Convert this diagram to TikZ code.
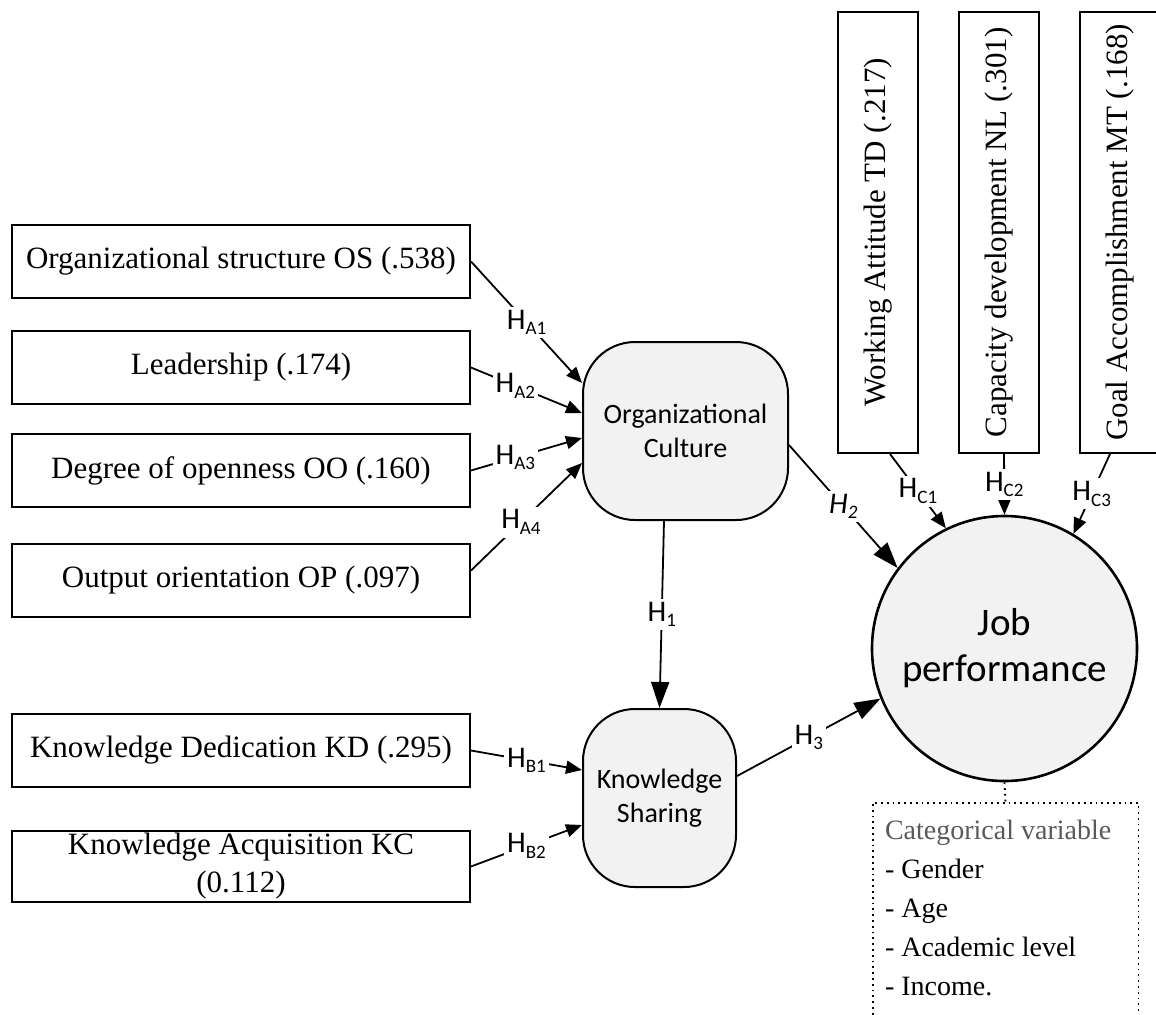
\documentclass[tikz,border=0pt]{standalone}
\usepackage{fontspec}
\setmainfont{Liberation Serif}
\newfontfamily\calib{Carlito}
\usetikzlibrary{arrows.meta, positioning}

% hypothesis label with a small lowered index
\newcommand{\hname}[1]{H\raisebox{-2.8pt}{\fontsize{9.5pt}{9.5pt}\selectfont #1}}

\begin{document}
\begin{tikzpicture}[
  x=0.5pt, y=-0.5pt,
  % Node styles
  inbox/.style={
    rectangle, draw, line width=1pt,
    minimum width=229pt, minimum height=36.5pt, inner sep=0pt,
    font=\fontsize{15.5pt}{19pt}\selectfont, align=center
  },
  vbox/.style={
    rectangle, draw, line width=1pt,
    minimum width=40pt, minimum height=220.5pt, inner sep=0pt,
    font=\fontsize{15.5pt}{19pt}\selectfont
  },
  latent/.style={
    rectangle, rounded corners=26pt,
    draw, line width=1pt, fill=gray!10,
    minimum height=89pt, inner sep=0pt, align=center,
    font=\calib\fontsize{14pt}{16.75pt}\selectfont
  },
  outcome/.style={
    circle, draw, line width=1.3pt, fill=gray!10,
    minimum size=132.5pt, inner sep=0pt, align=center,
    font=\calib\fontsize{19.5pt}{23pt}\selectfont
  },
  catbox/.style={
    rectangle, minimum width=132.5pt, minimum height=108.5pt, inner sep=0pt
  },
  cattext/.style={
    align=left, inner sep=0pt, font=\fontsize{14pt}{19.5pt}\selectfont
  },
  % Label and arrow styles
  hlab/.style={fill=white, inner sep=1.5pt, font=\calib\fontsize{15pt}{15pt}\selectfont},
  arr/.style={-{Triangle[length=8pt, width=6.5pt]}, line width=0.9pt},
  bigarr/.style={-{Triangle[length=13pt, width=9pt]}, line width=0.9pt},
  dotline/.style={dotted, line width=0.9pt}
]
\useasboundingbox (0,0) rectangle (1156,1014);

%% ── Indicator boxes (left column) ────────────────────────────
\node[inbox]                       (os)   at (241,261.5) {Organizational structure OS (.538)};
\node[inbox, below=15.5pt of os]   (lead) {Leadership (.174)};
\node[inbox, below=14pt of lead]   (deg)  {Degree of openness OO (.160)};
\node[inbox, below=17.5pt of deg]  (outp) {Output orientation OP (.097)};
\node[inbox, below=47.5pt of outp] (kd)   {Knowledge Dedication KD (.295)};
\node[inbox, below=21pt of kd, minimum height=35.5pt] (kc) {Knowledge Acquisition KC\\(0.112)};

%% ── Latent variables ─────────────────────────────────────────
\node[latent, minimum width=102.5pt] (oc) at (685.5,431) {Organizational\\Culture};
\node[latent, minimum width=76.5pt]  (ks) at (659.5,798) {Knowledge\\Sharing};
\node[outcome]                       (jp) at (1004.5,648.5) {Job\\performance};

%% ── Indicator boxes (top row) ────────────────────────────────
\node[vbox]                     (wa) at (878,232.5) {\rotatebox{90}{Working Attitude TD (.217)}};
\node[vbox, right=19.5pt of wa] (cd) {\rotatebox{90}{Capacity development NL (.301)}};
\node[vbox, right=19.5pt of cd] (ga) {\rotatebox{90}{Goal Accomplishment MT (.168)}};

%% ── Categorical variable box ─────────────────────────────────
\node[catbox] (cat) at (1005.5,911.5) {};
\node[cattext, anchor=north west] (catlist) at ([xshift=6pt, yshift=-8.5pt]cat.north west)
  {\textcolor{black!65}{Categorical variable}\\- Gender\\- Age\\- Academic level\\- Income.};

%% ── Arrows: indicators → Organizational Culture ──────────────
\draw[arr] (os.east)   -- node[hlab]{\hname{A1}} ([yshift=24pt]oc.west);
\draw[arr] (lead.east) -- node[hlab, pos=0.4]{\hname{A2}} ([yshift=9pt]oc.west);
\draw[arr] (deg.east)  -- node[hlab, pos=0.4]{\hname{A3}} ([yshift=-3.5pt]oc.west);
\draw[arr] ([yshift=5pt]outp.east) -- node[hlab, pos=0.45]{\hname{A4}} ([yshift=-16pt]oc.west);

%% ── Arrows: indicators → Knowledge Sharing ───────────────────
\draw[arr] (kd.east) -- node[hlab]{\hname{B1}} ([yshift=14pt]ks.west);
\draw[arr] (kc.east) -- node[hlab]{\hname{B2}} ([yshift=-13.5pt]ks.west);

%% ── Arrows: structural paths ─────────────────────────────────
\draw[bigarr] ([xshift=-10.75pt]oc.south) -- node[hlab]{\hname{1}} (ks.north);
\draw[bigarr] ([yshift=-7pt]oc.east) -- node[hlab]{\itshape\hname{2}} (jp.143);
\draw[bigarr] ([yshift=11pt]ks.east) -- node[hlab]{\hname{3}} (jp.202);

%% ── Arrows: indicators → Job performance ─────────────────────
\draw[arr] ([xshift=6pt]wa.south)   -- node[hlab]{\hname{C1}} (jp.116);
\draw[arr] ([xshift=2.5pt]cd.south) -- node[hlab]{\hname{C2}} (jp.north);
\draw[arr] ([xshift=-5pt]ga.south)  -- node[hlab]{\hname{C3}} (jp.59);

%% ── Dotted link to categorical variables ─────────────────────
\draw[dotline] (jp.south) -- (cat.north);
\draw[dotline] (cat.south west) |- (cat.north east) -- (cat.south east);

\end{tikzpicture}
\end{document}
